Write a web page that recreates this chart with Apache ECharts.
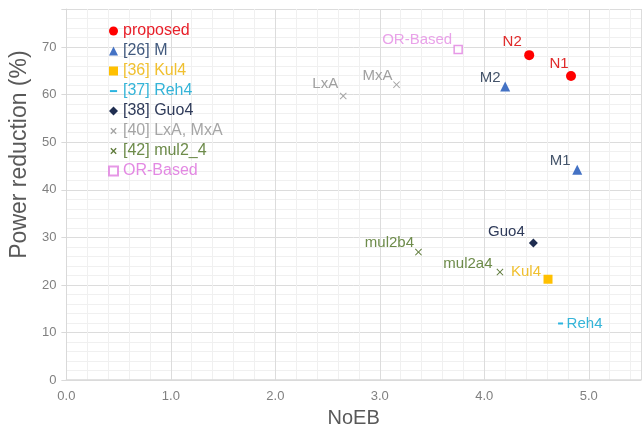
<!DOCTYPE html>
<html>
<head>
<meta charset="utf-8">
<script src="https://cdn.jsdelivr.net/npm/echarts@6/dist/echarts.min.js"></script>
<style>html,body{margin:0;padding:0;background:#fff;}#c{width:644px;height:433px;}</style>
</head>
<body>
<div id="c"></div>
<script>
// ---- data ----
var xTicks = ['0.0','1.0','2.0','3.0','4.0','5.0'];
var yTicks = ['0','10','20','30','40','50','60','70'];

var proposedNames = ['N1','N2'];
var proposedX = [4.83, 4.43];
var proposedY = [63.9, 68.3];

var mNames = ['M1','M2'];
var mX = [4.89, 4.20];
var mY = [44.2, 61.7];

var kulNames = ['Kul4'];
var kulX = [4.61];
var kulY = [21.2];

var rehNames = ['Reh4'];
var rehX = [4.73];
var rehY = [11.9];

var guoNames = ['Guo4'];
var guoX = [4.47];
var guoY = [28.8];

var lxaNames = ['LxA','MxA'];
var lxaX = [2.65, 3.16];
var lxaY = [59.7, 62.1];

var mulNames = ['mul2b4','mul2a4'];
var mulX = [3.37, 4.15];
var mulY = [26.9, 22.7];

var orNames = ['OR-Based'];
var orX = [3.75];
var orY = [69.5];

// ---- label placement (pixel offsets of label centre from the mark) ----
var labelOffsets = {
  'N1': [-12,-12], 'N2': [-17,-13], 'M1': [-17,-9], 'M2': [-15,-9],
  'Kul4': [-22,-7], 'Reh4': [24,0], 'Guo4': [-27,-11],
  'LxA': [-18,-12], 'MxA': [-19,-9], 'mul2b4': [-29,-9], 'mul2a4': [-32,-8],
  'OR-Based': [-41,-10]
};

var FONT = '"Liberation Sans", Arial, sans-serif';
var xMark = 'path://M1,0 L5,4 L9,0 L10,1 L6,5 L10,9 L9,10 L5,6 L1,10 L0,9 L4,5 L0,1 Z';
var xMarkIcon = 'path://M0,0 M10,10 M2.5,1.5 L5,4 L7.5,1.5 L8.5,2.5 L6,5 L8.5,7.5 L7.5,8.5 L5,6 L2.5,8.5 L1.5,7.5 L4,5 L1.5,2.5 Z';
var dashIcon = 'path://M0,0 M10,10 M1,4 L9,4 L9,6.2 L1,6.2 Z';

function pts(names, xs, ys) {
  return names.map(function (n, i) {
    return {
      value: [xs[i], ys[i]], name: n,
      label: { offset: labelOffsets[n] }
    };
  });
}

function series(name, names, xs, ys, symbol, size, color, labelColor) {
  return {
    name: name, type: 'scatter', symbol: symbol, symbolSize: size,
    data: pts(names, xs, ys),
    itemStyle: { color: color, opacity: 1 },
    label: {
      show: true, position: 'inside', formatter: '{b}',
      color: labelColor, fontSize: 15, fontFamily: FONT
    },
    emphasis: { disabled: true }
  };
}

var allSeries = [
  series('proposed', proposedNames, proposedX, proposedY, 'circle', 10, '#ff0000', '#e02a2a'),
  series('[26] M', mNames, mX, mY, 'triangle', 10, '#4472c4', '#44546a'),
  series('[36] Kul4', kulNames, kulX, kulY, 'rect', 9, '#ffc000', '#f0c030'),
  series('[37] Reh4', rehNames, rehX, rehY, 'rect', [5, 2], '#2ab4e0', '#34b4d8'),
  series('[38] Guo4', guoNames, guoX, guoY, 'diamond', [9, 9], '#1f2d50', '#2f3b5a'),
  series('[40] LxA, MxA', lxaNames, lxaX, lxaY, xMark, 7, '#a5a5a5', '#a0a0a0'),
  series('[42] mul2_4', mulNames, mulX, mulY, xMark, 7, '#5e7a3a', '#6d8b4a'),
  series('OR-Based', orNames, orX, orY, 'rect', 8, '#e07ee0', '#e38be3')
];
allSeries[7].itemStyle = { color: '#ffffff', borderColor: '#e07ee0', borderWidth: 1.5 };

var legendColors = ['#e8202a','#41597d','#f0c030','#34b4d8','#2f3b5a','#a6a6a6','#6d8b4a','#e389e3'];
var legendIcons = ['circle','triangle','rect',dashIcon,'diamond',xMarkIcon,xMarkIcon,'rect'];

var chart = echarts.init(document.getElementById('c'), null, { renderer: 'canvas' });
chart.setOption({
  backgroundColor: '#ffffff',
  animation: false,
  legend: {
    orient: 'vertical', left: 108, top: 21, padding: 0,
    itemWidth: 9, itemHeight: 9, itemGap: 0,
    textStyle: { fontSize: 16, fontFamily: FONT, lineHeight: 20 },
    data: allSeries.map(function (s, i) {
      return { name: s.name, icon: legendIcons[i], textStyle: { color: legendColors[i] } };
    })
  },
  grid: { left: 65, top: 9, width: 581, height: 376.5, containLabel: false },
  xAxis: {
    type: 'value', min: 0, max: 5.5, interval: 1,
    name: 'NoEB', nameLocation: 'middle', nameGap: 27,
    nameTextStyle: { fontSize: 20, color: '#595959', fontFamily: FONT },
    axisLine: { show: true, lineStyle: { color: '#d9d9d9', width: 1.5 } },
    axisTick: { show: false },
    axisLabel: {
      margin: 10, fontSize: 13, color: '#808080', fontFamily: FONT,
      formatter: function (v) { var i = Math.round(v); return Math.abs(v - i) < 1e-9 && xTicks[i] ? xTicks[i] : ''; }
    },
    splitLine: { show: true, lineStyle: { color: '#dcdcdc', width: 1 } },
    minorTick: { show: false, splitNumber: 5 },
    minorSplitLine: { show: true, lineStyle: { color: '#f0f0f0', width: 1 } }
  },
  yAxis: {
    type: 'value', min: 0, max: 78, interval: 10,
    name: 'Power reduction (%)', nameLocation: 'middle', nameGap: 34, nameRotate: 90,
    nameTextStyle: { fontSize: 23, color: '#595959', fontFamily: FONT, padding: [0, 0, 0, 80] },
    axisLine: { show: true, lineStyle: { color: '#d9d9d9', width: 1 } },
    axisTick: { show: true, length: 5, lineStyle: { color: '#d9d9d9' } },
    axisLabel: {
      margin: 10, fontSize: 13, color: '#808080', fontFamily: FONT,
      formatter: function (v) { var i = Math.round(v / 10); return Math.abs(v - i * 10) < 1e-9 && yTicks[i] ? yTicks[i] : ''; }
    },
    splitLine: { show: true, lineStyle: { color: '#dcdcdc', width: 1 } },
    minorTick: { show: false, splitNumber: 5 },
    minorSplitLine: { show: true, lineStyle: { color: '#f0f0f0', width: 1 } }
  },
  series: allSeries
});
</script>
</body>
</html>
